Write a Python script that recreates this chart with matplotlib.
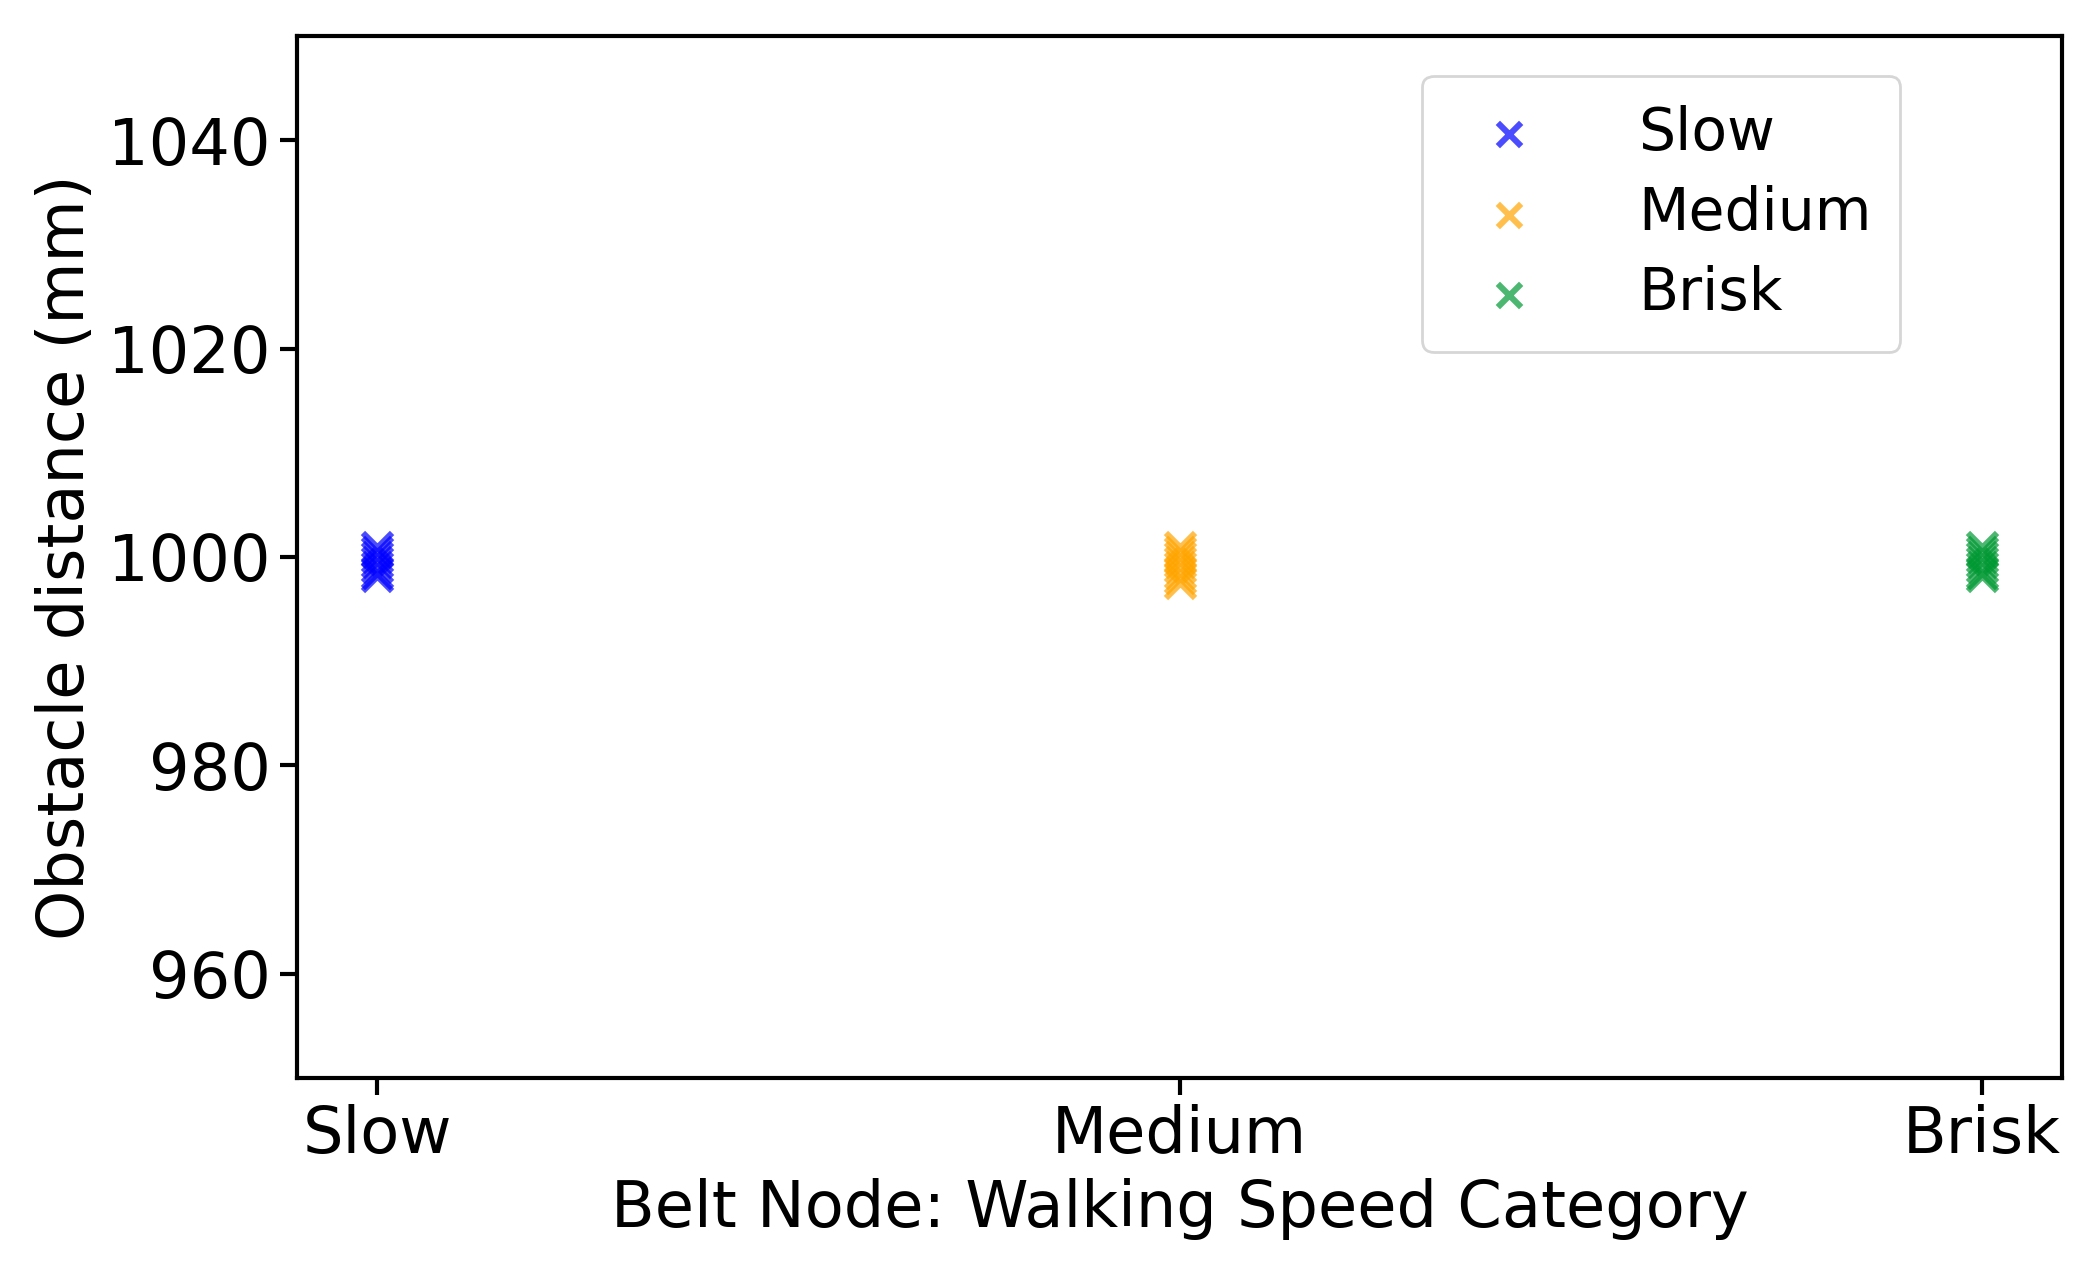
import matplotlib
matplotlib.use("Agg")
import matplotlib.pyplot as plt

categories = ["Slow", "Medium", "Brisk"]
colors = ["blue", "orange", "#009933"]
slow_vals = [1001.0, 1000.5, 1000.0, 999.5, 999.0, 998.5, 998.2]
medium_vals = [1001.0, 1000.5, 1000.0, 999.5, 999.0, 998.5, 998.0, 997.5]
brisk_vals = [1001.0, 1000.5, 1000.0, 999.5, 999.0, 998.5, 998.2]
series = [slow_vals, medium_vals, brisk_vals]

fig = plt.figure(figsize=(10.495, 6.4), dpi=200)
ax = fig.add_axes([297/2099, 1-1078/1280, (2062-297)/2099, (1078-36)/1280])
for i, (cat, vals, c) in enumerate(zip(categories, series, colors)):
    ax.scatter([cat]*len(vals), vals, marker="x", s=110, linewidths=2.2, color=c, alpha=0.7, label=cat)
ax.set_ylim(950, 1050)
ax.set_yticks([960, 980, 1000, 1020, 1040])
ax.set_xlim(-0.1, 2.1)
ax.tick_params(labelsize=23, width=1.5, length=6)
for s in ax.spines.values():
    s.set_linewidth(1.5)
ax.set_xlabel("Belt Node: Walking Speed Category", fontsize=23)
ax.set_ylabel("Obstacle distance (mm)", fontsize=23)
ax.legend(fontsize=21, loc="upper right", bbox_to_anchor=(0.925, 0.99), borderpad=0.5,
          handletextpad=1.2, labelspacing=0.4, markerscale=0.8)
fig.savefig("out.png", dpi=200)
